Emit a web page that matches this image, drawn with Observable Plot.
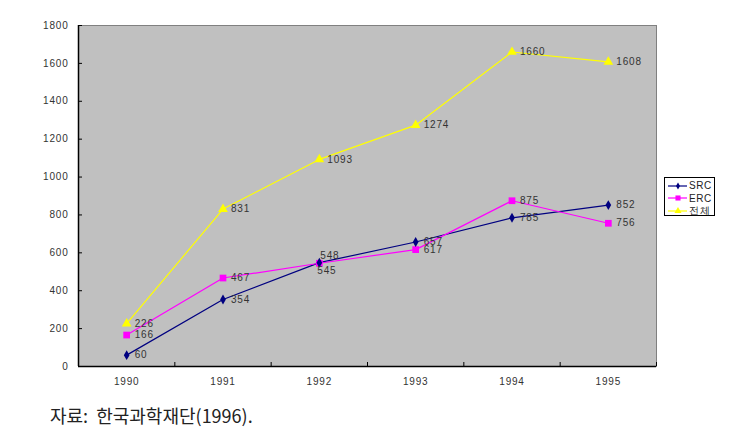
<!DOCTYPE html>
<html><head><meta charset="utf-8">
<script src="https://cdn.jsdelivr.net/npm/d3@7"></script>
<script src="https://cdn.jsdelivr.net/npm/@observablehq/plot@0.6"></script>
<style>
body{margin:0;background:#fff;font-family:"Liberation Sans",Arial,sans-serif;}
#wrap{position:relative;width:752px;height:443px;}
#legend{position:absolute;left:664px;top:177px;width:49px;height:37px;border:1px solid #000;background:#fff;font-size:10px;color:#222;}
#legend .row{position:absolute;left:3px;height:13px;display:flex;align-items:center;}
#legend .row span{margin-left:2px;letter-spacing:0.5px;}
#caption{position:absolute;left:50px;top:402px;font-family:"Noto Sans CJK KR",sans-serif;font-size:18px;color:#222;white-space:pre;}
</style></head>
<body><div id="wrap"><div id="chart"></div><div id="legend"></div><div id="caption"></div></div>
<script>
const years = [1990, 1991, 1992, 1993, 1994, 1995];
const seriesNames = ["SRC", "ERC", "전체"];
const src = [60, 354, 548, 657, 785, 852];
const erc = [166, 467, 545, 617, 875, 756];
const total = [226, 831, 1093, 1274, 1660, 1608];
const yTicks = [0, 200, 400, 600, 800, 1000, 1200, 1400, 1600, 1800];
const colors = ["#000080", "#FF00FF", "#FFFF00"];
const symbols = ["diamond", "square", "triangle"];
const captionText = "자료:  한국과학재단(1996).";

const valuesBySeries = [src, erc, total];
const data = [];
seriesNames.forEach((s, i) => years.forEach((y, j) => data.push({series: s, year: y, value: valuesBySeries[i][j]})));
const bounds = d3.range(years.length + 1).map(i => years[0] - 0.5 + i);

const special = d => d.year === 1992 && d.series !== "전체";
const font = {fontFamily: "Liberation Sans, Arial, sans-serif", fontSize: 10, fill: "#333"};
const symSize = {SRC: 2.0, ERC: 3.2, "전체": 2.9};

const chart = Plot.plot({
  width: 752, height: 395,
  marginLeft: 78, marginRight: 96, marginTop: 25, marginBottom: 29,
  style: {fontFamily: "Liberation Sans, Arial, sans-serif", fontSize: "10px", color: "#333", background: "transparent"},
  x: {type: "linear", domain: [bounds[0], bounds[bounds.length - 1]]},
  y: {domain: [0, 1800]},
  color: {domain: seriesNames, range: colors},
  symbol: {domain: seriesNames, range: symbols},
  marks: [
    Plot.frame({fill: "#C0C0C0", stroke: "#808080"}),
    Plot.ruleY([0], {stroke: "#000", strokeWidth: 1.5}),
    Plot.ruleX([bounds[0]], {stroke: "#000", strokeWidth: 1.5}),
    Plot.axisY({ticks: yTicks, tickSize: -4, tickPadding: 14, tickFormat: d => String(d), label: null, stroke: "#000"}),
    Plot.axisX({ticks: bounds, tickSize: -4, tickFormat: () => "", label: null, stroke: "#000"}),
    Plot.axisX({ticks: years, tickSize: 0, tickPadding: 11, tickFormat: d => String(d), label: null}),
    Plot.line(data, {x: "year", y: "value", z: "series", stroke: "series", strokeWidth: 1.2}),
    Plot.dot(data, {x: "year", y: "value", symbol: "series", fill: "series", stroke: null, r: d => symSize[d.series]}),
    Plot.text(data.filter(d => !special(d)), {x: "year", y: "value", text: d => String(d.value), textAnchor: "start", dx: 8, ...font}),
    Plot.text(data.filter(d => special(d) && d.series === "SRC"), {x: "year", y: "value", text: d => String(d.value), textAnchor: "start", dx: 1, dy: -7, ...font}),
    Plot.text(data.filter(d => special(d) && d.series === "ERC"), {x: "year", y: "value", text: d => String(d.value), textAnchor: "start", dx: -2, dy: 8, ...font})
  ]
});
// letter spacing for the numeric labels (mimics the original rendering)
d3.select(chart).selectAll("text").style("letter-spacing", "0.8px");
document.getElementById("chart").appendChild(chart);

// legend
const lg = document.getElementById("legend");
const symPath = {diamond: d3.symbol(d3.symbolDiamond, 14)(), square: d3.symbol(d3.symbolSquare, 26)(), triangle: d3.symbol(d3.symbolTriangle, 22)()};
seriesNames.forEach((s, i) => {
  const row = document.createElement("div");
  row.className = "row";
  row.style.top = (1 + i * 12.5) + "px";
  row.innerHTML = `<svg width="19" height="12"><line x1="0" x2="19" y1="6" y2="6" stroke="${colors[i]}" stroke-width="1.2"/><path transform="translate(10,6)" d="${symPath[symbols[i]]}" fill="${colors[i]}"/></svg><span>${s}</span>`;
  lg.appendChild(row);
});
document.getElementById("caption").textContent = captionText;
</script></body></html>
